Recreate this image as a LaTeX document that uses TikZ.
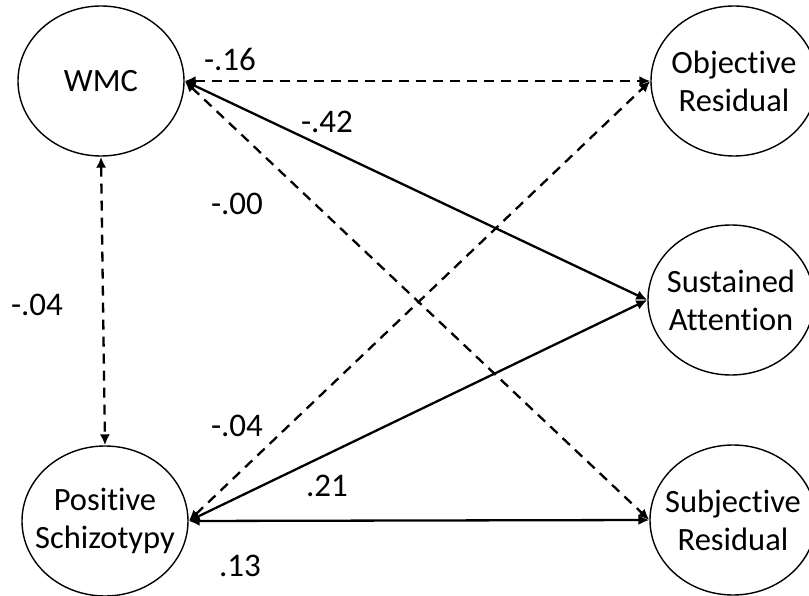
\documentclass[tikz,border=0pt]{standalone}
\usepackage{fontspec}
\setmainfont[Ligatures={NoCommon}]{Carlito}
\usetikzlibrary{arrows.meta,shapes.geometric}
\tikzset{
  latent/.style={ellipse, draw, line width=1.4pt, minimum width=166pt, minimum height=150pt,
    inner xsep=-24pt, inner ysep=0pt, align=center, font=\fontsize{32.5}{38}\selectfont},
  coef/.style={font=\fontsize{33}{36}\selectfont, inner sep=0pt},
  path/.style={line width=2.3pt, {Latex[length=11pt,width=10pt]}-{Latex[length=11pt,width=10pt]}},
  nonsig/.style={path, dash pattern=on 10pt off 7pt}
}
\begin{document}
\begin{tikzpicture}[x=1pt,y=-1pt]
\useasboundingbox (0,0) rectangle (809,596);
% latent variables
\node[latent] (wmc) at (101,81) {WMC};
\node[latent] (pos) at (105,521) {Positive\\Schizotypy};
\node[latent] (obj) at (734,81) {Objective\\Residual};
\node[latent] (sus) at (731,300) {Sustained\\Attention};
\node[latent] (sub) at (733,520) {Subjective\\Residual};
% paths
\draw[nonsig] (wmc.south) -- (pos.north);
\draw[nonsig] (wmc.east) -- (obj.west);
\draw[path] (wmc.east) -- (sus.west);
\draw[nonsig] (wmc.east) -- (sub.west);
\draw[nonsig] (pos.east) -- (obj.west);
\draw[path] (pos.east) -- (sus.west);
\draw[path] (pos.east) -- (sub.west);
% coefficients
\node[coef] (c1) at (230,59) {-.16};
\node[coef] (c2) at (327,122) {-.42};
\node[coef] (c3) at (237,204) {-.00};
\node[coef] (c4) at (37,305) {-.04};
\node[coef] (c5) at (237,426) {-.04};
\node[coef] (c6) at (327,486) {.21};
\node[coef] (c7) at (240,566) {.13};
\end{tikzpicture}
\end{document}
